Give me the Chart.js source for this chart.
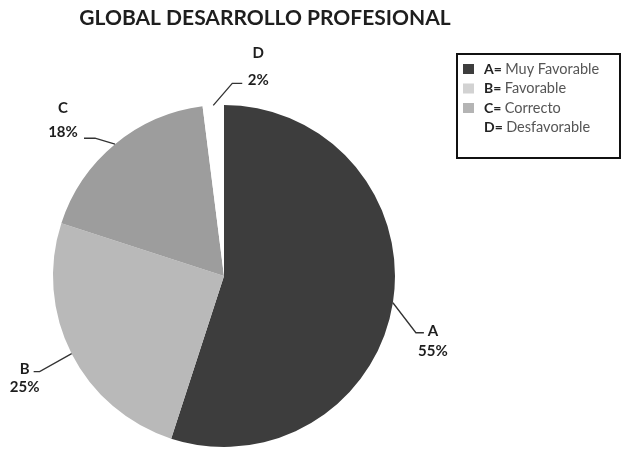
<!DOCTYPE html>
<html>
<head>
<meta charset="utf-8">
<script src="https://cdn.jsdelivr.net/npm/chart.js@4.4.1/dist/chart.umd.min.js"></script>
<style>
  html, body { margin: 0; padding: 0; background: #fff; }
  #wrap { width: 623px; height: 453px; }
</style>
</head>
<body>
<div id="wrap"><canvas id="pieChart" width="623" height="453"></canvas></div>
<script>
const categories = ['A', 'B', 'C', 'D'];
const legendLabels = ['Muy Favorable', 'Favorable', 'Correcto', 'Desfavorable'];
const percentages = [55, 25, 18, 2];
const chartTitle = 'GLOBAL DESARROLLO PROFESIONAL';

const sliceColors = ['#3d3d3d', '#b9b9b9', '#9d9d9d', '#ffffff'];
const swatchColors = ['#3d3d3d', '#d2d2d2', '#b4b4b4', null];

// leader line / label offsets relative to the arc midpoint
const labelLayout = [
    { elbow: [23, 30], end: [31, 30], text: [40, 28, 48] },
    { elbow: [-32, 18], end: [-38, 18], text: [-47, 16, 34] },
    { elbow: [-20, -6], end: [-31, -6], text: [-52, -36, -12] },
    { elbow: [19, -22], end: [29, -22], text: [45, -52, -25] }
];

const decorPlugin = {
    id: 'decor',
    afterDraw(chart) {
        const ctx = chart.ctx;
        ctx.save();

        // title
        ctx.fillStyle = '#1e1e1e';
        ctx.font = "bold 21px Lato, sans-serif";
        ctx.textAlign = 'center';
        ctx.textBaseline = 'middle';
        ctx.fillText(chartTitle, 265, 18);

        // slice labels
        const meta = chart.getDatasetMeta(0);
        meta.data.forEach(function (arc, i) {
            const mid = (arc.startAngle + arc.endAngle) / 2;
            const ax = arc.x + Math.cos(mid) * arc.outerRadius;
            const ay = arc.y + Math.sin(mid) * arc.outerRadius;
            const l = labelLayout[i];
            ctx.strokeStyle = '#333';
            ctx.lineWidth = 1.3;
            ctx.beginPath();
            ctx.moveTo(ax, ay);
            ctx.lineTo(ax + l.elbow[0], ay + l.elbow[1]);
            ctx.lineTo(ax + l.end[0], ay + l.end[1]);
            ctx.stroke();

            ctx.fillStyle = '#1e1e1e';
            ctx.font = "bold 15px Lato, sans-serif";
            ctx.textAlign = 'center';
            ctx.fillText(categories[i], ax + l.text[0], ay + l.text[1]);
            ctx.fillText(percentages[i] + '%', ax + l.text[0], ay + l.text[2]);
        });

        // legend box
        ctx.strokeStyle = '#111';
        ctx.lineWidth = 2;
        ctx.strokeRect(457, 54, 163, 104);
        ctx.textAlign = 'left';
        categories.forEach(function (c, i) {
            const y = 69 + i * 19.5;
            if (swatchColors[i]) {
                ctx.fillStyle = swatchColors[i];
                ctx.fillRect(463, y - 5, 11, 10);
            }
            ctx.fillStyle = '#222';
            ctx.font = "bold 14px Lato, sans-serif";
            ctx.fillText(c + '=', 484, y);
            const w = ctx.measureText(c + '= ').width;
            ctx.fillStyle = '#555';
            ctx.font = "14.5px Lato, sans-serif";
            ctx.fillText(legendLabels[i], 484 + w, y);
        });

        ctx.restore();
    }
};

new Chart(document.getElementById('pieChart'), {
    type: 'pie',
    data: {
        labels: categories,
        datasets: [{
            data: percentages,
            backgroundColor: sliceColors,
            borderWidth: 0
        }]
    },
    options: {
        responsive: false,
        animation: false,
        layout: {
            padding: { left: 53, right: 228, top: 105, bottom: 6 }
        },
        plugins: {
            legend: { display: false },
            tooltip: { enabled: false },
            title: { display: false }
        }
    },
    plugins: [decorPlugin]
});
</script>
</body>
</html>
